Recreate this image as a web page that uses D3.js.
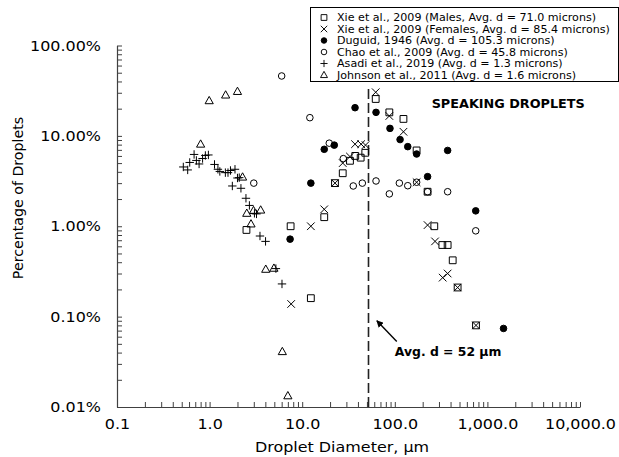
<!DOCTYPE html>
<html>
<head>
<meta charset="utf-8">
<script src="https://cdn.jsdelivr.net/npm/d3@7"></script>
<style>
  body { margin: 0; background: #fff; }
  svg { display: block; background: #fff; }
  text { font-family: "DejaVu Sans", Verdana, sans-serif; fill: #000; }
</style>
</head>
<body>
<svg id="chart" width="619" height="457"></svg>
<script>
// Droplet size distributions while speaking: [diameter in µm, percentage of droplets]
const xieMales = [
  [2.5, 0.91], [7.5, 1.0], [12.4, 0.16], [17.3, 1.26], [22.6, 3.0], [27.4, 3.86],
  [32.8, 5.3], [37.4, 6.0], [42.8, 5.74], [48, 6.5], [62.2, 25.6], [87.3, 18.2],
  [124, 15.4], [172, 6.9], [226, 2.41], [267, 1.0], [326, 0.62], [372, 0.62],
  [422, 0.42], [477, 0.21], [753, 0.08]
];
const xieFemales = [
  [7.6, 0.138], [12.4, 1.0], [17.3, 1.54], [22.6, 3.0], [27.4, 5.0], [32.8, 5.9],
  [37.2, 8.1], [43.3, 8.1], [48.3, 7.9], [62.2, 30.4], [87.3, 16.6], [124, 11.1],
  [172, 3.07], [226, 1.03], [272, 0.68], [329, 0.27], [372, 0.30], [477, 0.21],
  [753, 0.08]
];
const duguid = [
  [7.4, 0.72], [12.4, 3.0], [17.3, 7.1], [22.2, 7.9], [37.2, 20.5], [62.7, 18.2],
  [88.7, 12.1], [114, 9.1], [138, 7.6], [172, 6.3], [226, 3.54], [372, 6.9],
  [748, 1.48], [1493, 0.074]
];
const chao = [
  [3.0, 3.0], [6.0, 46], [12.1, 15.9], [19.6, 8.3], [27.8, 5.6], [35.6, 2.79],
  [44.6, 3.0], [62.7, 3.17], [87.3, 2.28], [112, 3.0], [138, 2.81], [172, 3.07],
  [226, 2.41], [372, 2.41], [748, 0.89]
];
const asadi = [
  [0.52, 4.53], [0.58, 4.2], [0.61, 5.08], [0.68, 6.23], [0.72, 5.35], [0.77, 4.89],
  [0.84, 5.62], [0.90, 6.07], [0.97, 6.15], [1.13, 4.83], [1.23, 4.27], [1.29, 4.04],
  [1.48, 3.92], [1.58, 3.92], [1.68, 4.14], [1.76, 2.79], [1.88, 4.27], [2.0, 3.42],
  [2.09, 3.45], [2.18, 2.63], [2.47, 2.04], [2.69, 1.70], [3.05, 1.39], [3.21, 1.37],
  [3.5, 0.78], [4.02, 0.68], [5.2, 0.34], [6.05, 0.23]
];
const johnson = [
  [0.80, 8.1], [0.99, 24.5], [1.49, 28.3], [2.0, 31], [2.27, 3.5], [2.52, 1.39],
  [2.80, 1.06], [2.98, 1.49], [3.56, 1.51], [4.04, 0.334], [4.95, 0.343],
  [6.1, 0.041], [7.0, 0.0133]
];

const legendLabels = [
  "Xie et al., 2009 (Males, Avg. d = 71.0 microns)",
  "Xie et al., 2009 (Females, Avg. d = 85.4 microns)",
  "Duguid, 1946 (Avg. d = 105.3 microns)",
  "Chao et al., 2009 (Avg. d = 45.8 microns)",
  "Asadi et al., 2019 (Avg. d = 1.3 microns)",
  "Johnson et al., 2011 (Avg. d = 1.6 microns)"
];

const xTickValues = [0.1, 1, 10, 100, 1000, 10000];
const xTickLabels = ["0.1", "1.0", "10.0", "100.0", "1,000.0", "10,000.0"];
const yTickValues = [0.01, 0.1, 1, 10, 100];
const yTickLabels = ["0.01%", "0.10%", "1.00%", "10.00%", "100.00%"];

const avgDiameter = 52;          // µm, overall average
const avgLineTop = 34;           // % where the dashed average line ends
const xTitle = "Droplet Diameter, μm";
const yTitle = "Percentage of Droplets";
const chartNote = "SPEAKING DROPLETS";
const avgNote = "Avg. d = 52 μm";

// ---- marker shapes ----
const shapes = {
  square: "M-3.4,-3.4H3.4V3.4H-3.4Z",
  times: "M-3.8,-3.8L3.8,3.8M3.8,-3.8L-3.8,3.8",
  circle: d3.symbol().type(d3.symbolCircle).size(34)(),
  plus: "M-4.2,0H4.2M0,-4.2V4.2",
  triangle: "M0,-4.3L4.1,3L-4.1,3Z"
};

const series = [
  { data: xieMales,   shape: "square",   filled: false },
  { data: xieFemales, shape: "times",    filled: false },
  { data: duguid,     shape: "circle",   filled: true  },
  { data: chao,       shape: "circle",   filled: false },
  { data: asadi,      shape: "plus",     filled: false },
  { data: johnson,    shape: "triangle", filled: false }
].map((s, i) => ({ ...s, label: legendLabels[i] }));

const svg = d3.select("#chart");
const stretch = 1.1;   // horizontal text stretch of the chart's typeface

const x = d3.scaleLog().domain([0.1, 10000]).range([117, 580]);
const y = d3.scaleLog().domain([0.01, 100]).range([407, 45.5]);

// minor ticks 2..9 within each decade
function minorTicks(majors) {
  const out = [];
  for (let i = 0; i < majors.length - 1; i++)
    for (let k = 2; k <= 9; k++) out.push(majors[i] * k);
  return out;
}

const axisColor = "#404040";

// x axis
const xAxis = d3.axisBottom(x)
  .tickValues(xTickValues.concat(minorTicks(xTickValues)))
  .tickFormat(d => { const i = xTickValues.indexOf(d); return i >= 0 ? xTickLabels[i] : ""; })
  .tickSizeInner(-5).tickSizeOuter(0).tickPadding(12);
const gx = svg.append("g").attr("transform", `translate(0,${y.range()[0]})`).call(xAxis);
gx.select(".domain").attr("stroke", axisColor).attr("stroke-width", 1.2);
gx.selectAll(".tick line").attr("stroke", axisColor);
gx.selectAll(".tick text")
  .attr("font-size", 14.5)
  .attr("font-family", "DejaVu Sans, Verdana, sans-serif")
  .attr("fill", "#000")
  .attr("transform", `scale(${stretch},1)`);

// y axis
const yAxis = d3.axisLeft(y)
  .tickValues(yTickValues.concat(minorTicks(yTickValues)))
  .tickFormat(d => { const i = yTickValues.indexOf(d); return i >= 0 ? yTickLabels[i] : ""; })
  .tickSizeInner(-5).tickSizeOuter(0).tickPadding(16);
const gy = svg.append("g").attr("transform", `translate(${x.range()[0]},0)`).call(yAxis);
gy.select(".domain").attr("stroke", axisColor).attr("stroke-width", 1.2);
gy.selectAll(".tick line").attr("stroke", axisColor);
gy.selectAll(".tick text")
  .attr("font-size", 14.5)
  .attr("font-family", "DejaVu Sans, Verdana, sans-serif")
  .attr("fill", "#000")
  .attr("x", -16 / stretch)
  .attr("transform", `scale(${stretch},1)`);

// axis titles
svg.append("text")
  .attr("transform", `translate(342,447) scale(${stretch},1)`)
  .attr("text-anchor", "middle").attr("dy", "0.35em")
  .attr("font-size", 14.5)
  .text(xTitle);
svg.append("text")
  .attr("transform", "translate(18,198) rotate(-90)")
  .attr("text-anchor", "middle").attr("dy", "0.35em")
  .attr("font-size", 14.2)
  .text(yTitle);

// dashed average diameter line
svg.append("line")
  .attr("x1", x(avgDiameter)).attr("x2", x(avgDiameter))
  .attr("y1", y(0.01)).attr("y2", y(avgLineTop))
  .attr("stroke", "#222").attr("stroke-width", 1.6)
  .attr("stroke-dasharray", "10,4");

// data points
series.forEach(s => {
  svg.append("g")
    .selectAll("path")
    .data(s.data)
    .join("path")
    .attr("transform", d => `translate(${x(d[0])},${y(d[1])})`)
    .attr("d", shapes[s.shape])
    .attr("fill", s.filled ? "#000" : "none")
    .attr("stroke", "#000")
    .attr("stroke-width", 1);
});

// annotation: arrow to the average line
svg.append("defs").append("marker")
  .attr("id", "arrowhead").attr("viewBox", "0 0 10 10")
  .attr("refX", 9).attr("refY", 5)
  .attr("markerWidth", 5).attr("markerHeight", 5)
  .attr("orient", "auto-start-reverse")
  .append("path").attr("d", "M0,0L10,5L0,10Z").attr("fill", "#000");
svg.append("line")
  .attr("x1", x(105)).attr("y1", y(0.053))
  .attr("x2", x(64)).attr("y2", y(0.09))
  .attr("stroke", "#000").attr("stroke-width", 1.4)
  .attr("marker-end", "url(#arrowhead)");
svg.append("text")
  .attr("x", x(100)).attr("y", y(0.041)).attr("dy", "0.35em")
  .attr("font-size", 12.4).attr("font-weight", "bold")
  .text(avgNote);

svg.append("text")
  .attr("x", x(250)).attr("y", y(23)).attr("dy", "0.35em")
  .attr("font-size", 12.8).attr("font-weight", "bold")
  .text(chartNote);

// legend
const legend = svg.append("g");
legend.append("rect")
  .attr("x", 310.5).attr("y", 7.5).attr("width", 308).attr("height", 74)
  .attr("fill", "#fff").attr("stroke", "#000").attr("stroke-width", 1);
series.forEach((s, i) => {
  const ly = 17.5 + i * 11.5;
  legend.append("path")
    .attr("transform", `translate(324,${ly}) scale(0.85)`)
    .attr("d", shapes[s.shape])
    .attr("fill", s.filled ? "#000" : "none")
    .attr("stroke", "#000").attr("stroke-width", 1.1);
  legend.append("text")
    .attr("transform", `translate(337,${ly}) scale(${stretch},1)`)
    .attr("dy", "0.35em")
    .attr("font-size", 10.1)
    .text(s.label);
});
</script>
</body>
</html>
